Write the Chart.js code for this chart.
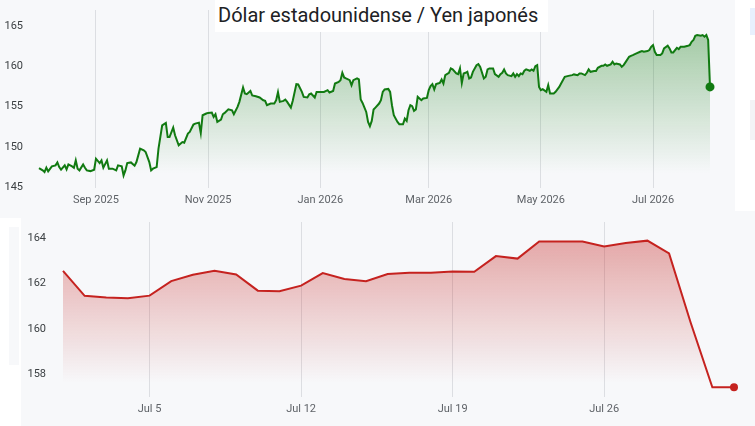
<!DOCTYPE html>
<html>
<head>
<meta charset="utf-8">
<script src="https://cdn.jsdelivr.net/npm/chart.js@4.4.1/dist/chart.umd.min.js"></script>
<style>
  html, body { margin: 0; padding: 0; }
  body { width: 755px; height: 426px; background: #f7f8fa; position: relative; overflow: hidden; font-family: Roboto, sans-serif; }
  #topChart { position: absolute; left: 0; top: 0; }
  #bottomChart { position: absolute; left: 21px; top: 218px; }
  .sideRight { position: absolute; left: 735px; top: 0; width: 20px; height: 211px; background: #fff; }
  .sideRight .blue { position: absolute; left: 15px; top: 8px; width: 5px; height: 27px; background: #e8f0fe; }
  .sideRight .gray { position: absolute; left: 15px; top: 100px; width: 5px; height: 40px; background: #f3f4f6; }
  .sideLeft { position: absolute; left: 0; top: 218px; width: 21px; height: 208px; background: #fff; }
  .sideLeft .tab { position: absolute; left: 9px; top: 9px; width: 10px; height: 138px; background: #f7f8fa; }
  .title { position: absolute; left: 215px; top: 0; width: 333px; height: 32px; background: #fff;
           font-size: 20px; line-height: 31px; padding-left: 3px; box-sizing: border-box; color: #202124; z-index: 2; white-space: nowrap; }
</style>
</head>
<body>
<canvas id="topChart" width="735" height="211"></canvas>
<div class="sideRight"><div class="blue"></div><div class="gray"></div></div>
<div class="sideLeft"><div class="tab"></div></div>
<canvas id="bottomChart" width="734" height="208"></canvas>
<div class="title">Dólar estadounidense / Yen japonés</div>

<script>
// Año: días desde el 1 ago 2025
const yearDays = [0, 2, 3, 4, 5, 7, 9, 10, 11, 12, 14, 15, 16, 18, 19, 20, 21, 22, 24, 25, 26, 28, 30, 31, 33, 34, 35, 37, 38, 40,
  42, 43, 45, 46, 47, 48, 50, 52, 53, 55, 57, 58, 60, 61, 62, 64, 65, 67, 69, 70, 71, 73, 74, 76, 78, 79, 81, 82, 84, 85,
  87, 88, 89, 91, 92, 94, 95, 96, 97, 99, 100, 101, 103, 105, 106, 108, 109, 111, 112, 113, 115, 116, 118, 120, 122, 123, 124, 126, 128, 129,
  130, 131, 133, 134, 135, 137, 138, 140, 141, 143, 144, 146, 147, 148, 150, 151, 153, 155, 157, 158, 160, 161, 163, 164, 165, 166, 167, 169, 170, 171,
  173, 174, 175, 176, 178, 179, 180, 181, 182, 183, 185, 186, 187, 188, 190, 191, 192, 193, 195, 196, 198, 199, 200, 201, 202, 203, 204, 205, 206, 208,
  209, 211, 212, 213, 214, 215, 216, 217, 218, 219, 220, 221, 223, 224, 225, 227, 228, 229, 230, 231, 232, 233, 234, 235, 236, 238, 239, 240, 242, 243,
  244, 245, 247, 248, 250, 251, 252, 253, 254, 255, 257, 258, 259, 260, 261, 262, 263, 264, 265, 267, 268, 269, 270, 271, 272, 273, 274, 276, 277, 278,
  280, 281, 283, 284, 286, 288, 290, 291, 293, 294, 295, 297, 298, 299, 300, 302, 303, 304, 306, 307, 308, 309, 311, 312, 313, 314, 316, 317, 318, 319,
  321, 322, 323, 325, 327, 328, 329, 331, 332, 333, 334, 335, 336, 338, 339, 340, 342, 343, 344, 345, 347, 348, 349, 351, 353, 354, 355, 356, 357, 358,
  360, 361, 362, 363, 364, 365];
const yearRates = [147.36, 147.07, 146.86, 147.40, 146.94, 147.57, 147.69, 148.06, 147.48, 147.15, 147.69, 147.19, 147.81, 147.57, 147.40, 148.31, 147.28, 147.07, 147.81, 147.40, 147.07, 146.98, 147.15, 148.52, 147.98, 148.31, 147.40, 148.31, 147.28, 147.28,
  147.07, 147.69, 147.57, 146.44, 147.07, 147.98, 148.06, 147.65, 148.10, 149.77, 149.56, 149.35, 148.10, 147.07, 147.28, 147.48, 149.77, 152.67, 152.96, 151.21, 151.21, 152.38, 151.43, 150.18, 150.59, 150.51, 151.64, 151.84, 152.76, 152.88,
  153.00, 151.71, 153.92, 154.13, 154.21, 154.25, 153.71, 154.04, 153.09, 153.38, 154.04, 154.21, 154.66, 154.54, 154.04, 154.95, 155.58, 157.37, 156.62, 156.53, 156.94, 156.37, 156.28, 156.12, 155.78, 155.70, 155.16, 155.37, 155.37, 155.78,
  156.78, 155.58, 155.70, 155.87, 155.58, 154.87, 155.70, 157.78, 157.74, 156.82, 156.20, 156.12, 156.53, 156.62, 156.12, 156.82, 156.82, 156.82, 157.03, 156.74, 156.94, 157.86, 158.06, 158.28, 159.19, 158.61, 158.49, 158.28, 157.65, 158.28,
  158.49, 158.36, 155.87, 155.45, 154.33, 153.09, 152.55, 153.21, 154.63, 154.87, 155.37, 155.78, 156.82, 157.12, 157.19, 156.82, 155.16, 153.92, 153.09, 152.80, 152.80, 153.50, 153.21, 154.54, 155.16, 155.04, 154.46, 154.63, 156.20, 155.78,
  155.99, 156.07, 157.03, 157.53, 157.78, 157.12, 157.78, 157.86, 157.94, 158.36, 157.86, 158.90, 159.19, 159.73, 159.61, 159.11, 159.02, 159.73, 157.94, 159.11, 159.19, 159.31, 158.49, 158.61, 159.31, 160.14, 160.27, 159.93, 158.49, 158.69,
  159.61, 159.73, 159.73, 159.02, 158.69, 159.02, 159.19, 159.61, 159.11, 158.90, 158.77, 159.11, 158.69, 159.02, 158.77, 159.11, 159.02, 159.44, 159.61, 159.44, 159.61, 159.44, 160.02, 160.14, 157.44, 157.03, 157.15, 156.82, 157.65, 156.62,
  156.62, 156.82, 157.44, 157.86, 158.69, 158.81, 158.90, 158.99, 158.90, 159.11, 159.11, 158.90, 159.19, 159.61, 159.31, 159.40, 159.40, 159.81, 160.06, 160.06, 160.23, 160.06, 160.23, 160.56, 160.23, 160.35, 160.23, 159.93, 160.14, 160.48,
  161.18, 161.30, 161.39, 161.60, 161.80, 161.89, 161.80, 161.89, 162.01, 162.42, 162.63, 161.80, 161.39, 161.39, 161.60, 162.22, 162.55, 162.22, 161.72, 161.72, 162.30, 162.14, 162.42, 162.42, 162.55, 162.63, 163.04, 163.26, 163.79, 163.88,
  163.79, 163.88, 163.67, 163.88, 163.26, 157.44];
const yearTickDays = [31, 92, 153, 212, 273, 334];
const yearTickLabels = ['Sep 2025', 'Nov 2025', 'Jan 2026', 'Mar 2026', 'May 2026', 'Jul 2026'];
const yearValueTicks = [145, 150, 155, 160, 165];

// Mes: días desde el 1 jul 2026
const monthDays = [0, 1, 2, 3, 4, 5, 6, 7, 8, 9, 10, 11, 12, 13, 14, 15, 16, 17, 18, 19, 20, 21, 22, 23, 24, 25, 26, 27, 28, 29, 30, 31];
const monthRates = [162.55, 161.45, 161.38, 161.35, 161.46, 162.10, 162.38, 162.55, 162.39, 161.68, 161.65, 161.90, 162.45, 162.19, 162.09, 162.41,
  162.47, 162.47, 162.52, 162.51, 163.20, 163.09, 163.84, 163.84, 163.84, 163.62, 163.78, 163.88, 163.32, 160.27, 157.43, 157.43];
const monthTickDays = [4, 11, 18, 25];
const monthTickLabels = ['Jul 5', 'Jul 12', 'Jul 19', 'Jul 26'];
const monthValueTicks = [158, 160, 162, 164];

const green = '#117a11';
const red = '#c5221f';

function fade(rgb, topAlpha, stop) {
  return (ctx) => {
    const area = ctx.chart.chartArea;
    if (!area) return 'transparent';
    const g = ctx.chart.ctx.createLinearGradient(0, area.top, 0, area.bottom);
    g.addColorStop(0, `rgba(${rgb},${topAlpha})`);
    g.addColorStop(stop, `rgba(${rgb},0)`);
    g.addColorStop(1, `rgba(${rgb},0)`);
    return g;
  };
}

// el tamaño de cada eje se fija a mano, sin el relleno automático de etiquetas
function fixAxis(s, size) {
  if (s.isHorizontal()) s.height = size; else s.width = size;
  s.paddingTop = s.paddingBottom = s.paddingLeft = s.paddingRight = 0;
}

function makeChart(id, o) {
  const last = o.values.length - 1;
  return new Chart(document.getElementById(id), {
    type: 'line',
    data: {
      datasets: [{
        data: o.days.map((d, i) => ({ x: d, y: o.values[i] })),
        borderColor: o.color,
        borderWidth: 2,
        tension: 0,
        fill: 'start',
        backgroundColor: fade(o.rgb, 0.42, 0.92),
        pointRadius: c => c.dataIndex === last ? o.dot : 0,
        pointBackgroundColor: o.color,
        pointBorderWidth: 0,
        clip: false
      }]
    },
    options: {
      responsive: false,
      animation: false,
      layout: { padding: o.padding },
      plugins: { legend: { display: false }, tooltip: { enabled: false } },
      scales: {
        x: {
          type: 'linear',
          min: o.xMin, max: o.xMax,
          afterBuildTicks: s => { s.ticks = o.xTicks.map(v => ({ value: v })); },
          afterFit: s => fixAxis(s, o.xHeight),
          ticks: {
            autoSkip: false, maxRotation: 0, padding: o.xPad,
            color: '#5f6368', font: { family: 'Roboto', size: 11 },
            callback: (v, i) => o.xLabels[i]
          },
          grid: { color: '#dcdee2', drawTicks: false },
          border: { display: false }
        },
        y: {
          min: o.yMin, max: o.yMax,
          afterBuildTicks: s => { s.ticks = o.yTicks.map(v => ({ value: v })); },
          afterFit: s => fixAxis(s, o.yWidth),
          ticks: { padding: o.yPad, color: '#3c4043', font: { family: 'Roboto', size: 11 } },
          grid: { display: false },
          border: { display: false }
        }
      }
    }
  });
}

makeChart('topChart', {
  days: yearDays, values: yearRates, color: green, rgb: '17,122,17', dot: 4.5,
  padding: { top: 10, right: 25, left: 0, bottom: 0 },
  xMin: 0, xMax: 365, xTicks: yearTickDays, xLabels: yearTickLabels, xHeight: 23, xPad: 6,
  yMin: 144.88, yMax: 166.99, yTicks: yearValueTicks, yWidth: 39, yPad: 8
});

makeChart('bottomChart', {
  days: monthDays, values: monthRates, color: red, rgb: '197,34,31', dot: 4,
  padding: { top: 2, right: 21, left: 0, bottom: 0 },
  xMin: 0, xMax: 31, xTicks: monthTickDays, xLabels: monthTickLabels, xHeight: 29, xPad: 6,
  yMin: 157.0, yMax: 164.7, yTicks: monthValueTicks, yWidth: 42, yPad: 9
});
</script>
</body>
</html>
